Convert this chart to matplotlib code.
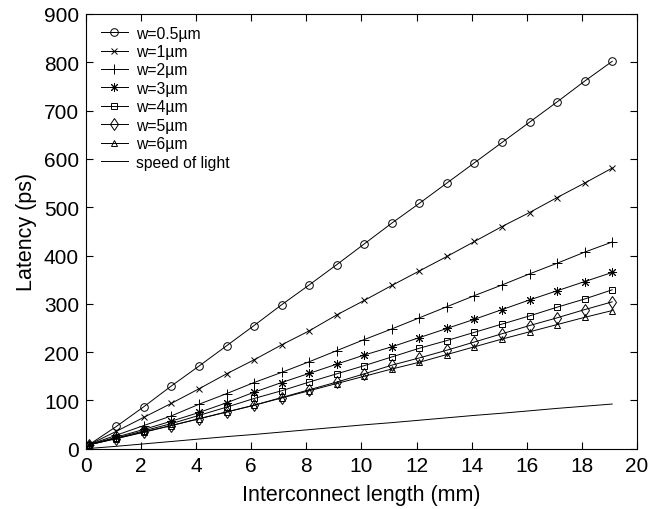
import matplotlib
matplotlib.use("Agg")
import matplotlib.pyplot as plt

plt.rcParams['font.family'] = ['Liberation Sans', 'DejaVu Sans']

# Interconnect length (mm)
length = [0.1, 1.1, 2.1, 3.1, 4.1, 5.1, 6.1, 7.1, 8.1, 9.1,
          10.1, 11.1, 12.1, 13.1, 14.1, 15.1, 16.1, 17.1, 18.1, 19.1]

# Latency (ps) for each wire width
lat_w05 = [8, 46, 87, 130, 171, 213, 255, 298, 339, 381,
           424, 467, 508, 550, 592, 634, 676, 718, 761, 802]
lat_w1 = [8, 36, 65, 94, 124, 155, 184, 215, 244, 277,
          307, 338, 368, 398, 429, 460, 489, 520, 550, 581]
lat_w2 = [8, 28, 48, 68, 92, 114, 137, 158, 180, 203,
          226, 248, 271, 294, 317, 339, 362, 384, 407, 428]
lat_w3 = [8, 24, 40, 57, 75, 95, 117, 137, 156, 175,
          194, 211, 230, 249, 268, 288, 308, 327, 346, 365]
lat_w4 = [8, 22, 37, 52, 69, 86, 104, 120, 138, 155,
          172, 190, 208, 224, 241, 258, 275, 293, 310, 329]
lat_w5 = [8, 21, 34, 48, 62, 76, 90, 106, 122, 138,
          155, 173, 188, 204, 221, 238, 255, 271, 288, 304]
lat_w6 = [8, 21, 35, 48, 62, 76, 90, 105, 120, 135,
          150, 165, 179, 195, 211, 227, 242, 257, 272, 286]
lat_light = [0.5, 5, 10, 15, 20, 25, 29.5, 34.5, 39.5, 44.5,
             49.5, 54, 59, 64, 69, 73.5, 78.5, 83.5, 88, 92.5]

labels = ["w=0.5µm", "w=1µm", "w=2µm", "w=3µm", "w=4µm", "w=5µm", "w=6µm",
          "speed of light"]
series = [lat_w05, lat_w1, lat_w2, lat_w3, lat_w4, lat_w5, lat_w6, lat_light]
# (8, 2, 0) is an eight-spoke asterisk
markers = ["o", "x", "+", (8, 2, 0), "s", "d", "^", None]
msizes = [5.5, 5, 7, 6.5, 4.5, 6, 5, 0]

fig = plt.figure(figsize=(6.5, 5.1), dpi=100)
ax = fig.add_axes([0.1323, 0.1182, 0.8477, 0.8524])

for y, lab, m, ms in zip(series, labels, markers, msizes):
    kw = dict(color="black", linewidth=0.7, label=lab)
    if m is not None:
        kw.update(marker=m, markersize=ms, markerfacecolor="none",
                  markeredgecolor="black", markeredgewidth=0.7)
    ax.plot(length, y, **kw)

ax.set_xlim(0, 20)
ax.set_ylim(0, 900)
ax.set_xticks(range(0, 21, 2))
ax.set_yticks(range(0, 901, 100))
ax.tick_params(direction="in", top=True, right=True, length=5,
               width=0.8, labelsize=15, pad=5)
for s in ax.spines.values():
    s.set_linewidth(0.8)

ax.set_xlabel("Interconnect length (mm)", fontsize=15.5, labelpad=7)
ax.set_ylabel("Latency (ps)", fontsize=15.5, labelpad=5)

leg = ax.legend(loc="upper left", frameon=False, fontsize=11.3,
                handlelength=1.7, handletextpad=0.55, labelspacing=0.22,
                borderaxespad=0.2, bbox_to_anchor=(0.01, 0.995))

fig.savefig("out.png", dpi=100)
